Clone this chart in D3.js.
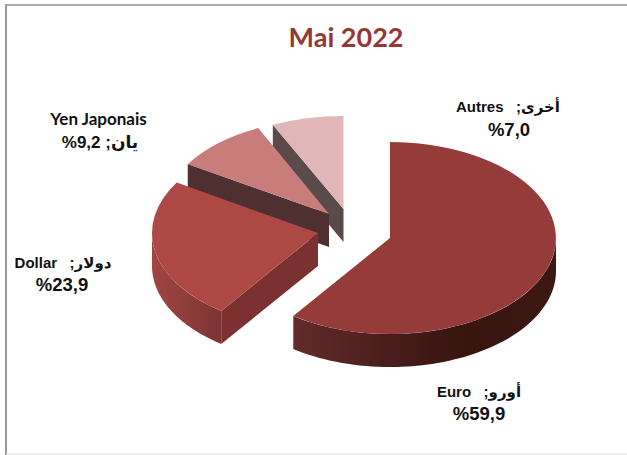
<!DOCTYPE html>
<html><head><meta charset="utf-8">
<script src="https://cdn.jsdelivr.net/npm/d3@7"></script>
<style>html,body{margin:0;padding:0;background:#fff}svg{display:block}</style>
</head><body><svg id="c" width="627" height="455"></svg>
<script>
const title = "Mai 2022";
const categories = ["Euro", "Dollar", "Yen Japonais", "Autres"];
const arabicNames = ["أورو", "دولار", "يان", "أخرى"];
const values = [59.9, 23.9, 9.2, 7.0];
const valueLabels = ["%59,9", "%23,9", "%9,2", "%7,0"];
const topColors = ["#953b3a", "#ae4845", "#c87d7b", "#e0b6b6"];
const cutColors = ["#5e2a2a", "#7a312f", "#4f3030", "#5a4a4a"];

const RX = 166, DEPTH = 33;
// exploded apex and vertical radius of each slice (the far slices read slightly flatter)
const centers = [[390, 238], [318, 233], [329, 214], [343.5, 209]];
const radiiY = [96, 96, 95, 93];

const svg = d3.select("#c");
const defs = svg.append("defs");
// frame
const frame = svg.append("g");
frame.append("line").attr("x1",5).attr("x2",627).attr("y1",5).attr("y2",5).attr("stroke","#ababab").attr("stroke-width",2);
frame.append("line").attr("x1",6).attr("x2",6).attr("y1",4).attr("y2",455).attr("stroke","#9a9a9a").attr("stroke-width",2);
frame.append("line").attr("x1",6).attr("x2",627).attr("y1",454).attr("y2",454).attr("stroke","#dcdcdc").attr("stroke-width",1);

const pie = d3.pie().sort(null).value(d => d)(values);
const arc = d3.arc().innerRadius(0).outerRadius(1);
const pt = (i, a, dy = 0) => [centers[i][0] + RX * Math.sin(a), centers[i][1] - radiiY[i] * Math.cos(a) + dy];
const line = d3.line();

function outerSide(i, a0, a1) {
  const n = 60, seq = d3.range(n + 1).map(k => a0 + (a1 - a0) * k / n);
  return line(seq.map(a => pt(i, a)).concat(seq.slice().reverse().map(a => pt(i, a, DEPTH)))) + "Z";
}

const rimStops = {
  0: [[0, "#632b2a"], [.45, "#431a18"], [.65, "#38150f"], [1, "#3c1713"]],
  1: [[0, "#a04543"], [.8, "#833836"], [1, "#7c3331"]]
};

[3, 2, 1, 0].forEach(i => {
  const p = pie[i], c = centers[i];
  const g = svg.append("g");
  // cut face along the slice's start edge when it faces the viewer
  if (i > 0) {
    const e = pt(i, p.startAngle);
    g.append("path").attr("fill", cutColors[i])
      .attr("d", line([c, e, [e[0], e[1] + DEPTH], [c[0], c[1] + DEPTH]]) + "Z");
  }
  // visible outer rim
  const a0 = Math.max(p.startAngle, Math.PI / 2), a1 = Math.min(p.endAngle, 3 * Math.PI / 2);
  if (rimStops[i] && a1 > a0) {
    const id = "rim" + i;
    const xs = [pt(i, a0)[0], pt(i, a1)[0]];
    const lg = defs.append("linearGradient").attr("id", id).attr("gradientUnits", "userSpaceOnUse")
      .attr("x1", d3.min(xs)).attr("x2", d3.max(xs)).attr("y1", 0).attr("y2", 0);
    rimStops[i].forEach(s => lg.append("stop").attr("offset", s[0]).attr("stop-color", s[1]));
    g.append("path").attr("fill", `url(#${id})`).attr("d", outerSide(i, a0, a1));
  }
  // top face
  g.append("path").attr("fill", topColors[i])
    .attr("transform", `translate(${c[0]},${c[1]}) scale(${RX},${radiiY[i]})`)
    .attr("d", arc(p));
});

// title
svg.append("text").attr("x", 346).attr("y", 47).attr("text-anchor", "middle")
  .attr("font-family", "Lato, 'Liberation Sans', sans-serif").attr("font-weight", 700)
  .attr("font-size", 27).attr("fill", "#953735").text(title);

// labels
const FONT = "'Liberation Sans', 'DejaVu Sans', sans-serif";
const LAT = "Lato, 'DejaVu Sans', sans-serif";
function lbl(x, y, text, opt = {}) {
  svg.append("text").attr("x", x).attr("y", y).attr("text-anchor", "middle")
    .attr("direction", "ltr").attr("font-family", opt.f || FONT).attr("font-weight", 700)
    .attr("font-size", opt.s || 15).attr("fill", "#111")
    .style("white-space", "pre").text(text);
}
const nameLine = i => `${categories[i]}   ;${arabicNames[i]}`;
lbl(479, 397, nameLine(0));
lbl(479, 420, valueLabels[0], {s: 18.5});
lbl(63, 268, nameLine(1));
lbl(62, 291, valueLabels[1], {s: 18.5});
lbl(98.5, 125, categories[2], {f: LAT, s: 17});
lbl(100, 148, `${valueLabels[2]} ;${arabicNames[2]}`, {s: 17});
lbl(508, 112, nameLine(3));
lbl(509, 136, valueLabels[3], {s: 18.5});
</script></body></html>
